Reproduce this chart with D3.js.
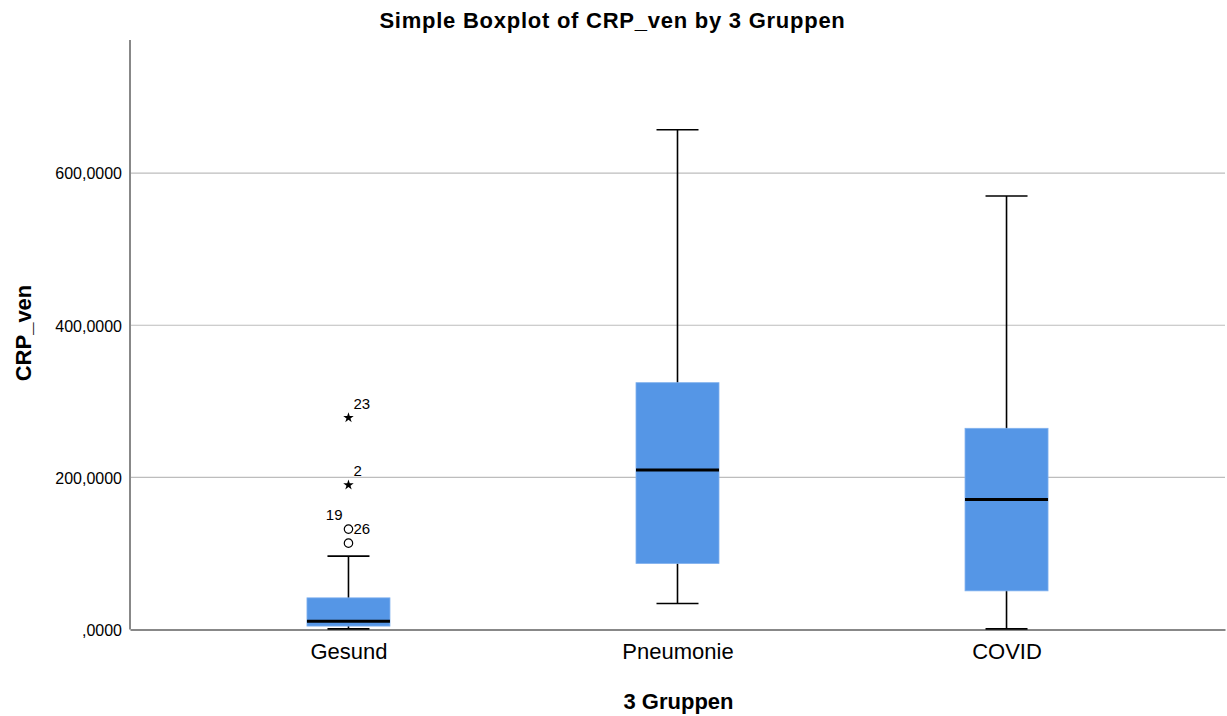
<!DOCTYPE html>
<html>
<head>
<meta charset="utf-8">
<script src="https://cdn.jsdelivr.net/npm/d3@7"></script>
<style>
    body { margin: 0; background: #fff; }
    text { font-family: Arial, "Liberation Sans", sans-serif; fill: #000; }
</style>
</head>
<body>
<svg id="chart" width="1227" height="716"></svg>
<script>
// Data
var categories = ['Gesund', 'Pneumonie', 'COVID'];
var whiskerLow = [0.8, 34.2, 0.8];
var q1 = [4.5, 86.8, 50.8];
var median = [10.9, 209.6, 171];
var q3 = [41.6, 324.5, 264.5];
var whiskerHigh = [96.4, 657, 570];

// outliers: circles are 'outlier', stars are 'extreme'
var outlierGroup = ['Gesund', 'Gesund', 'Gesund', 'Gesund'];
var outlierValue = [278.4, 190, 132, 113.5];
var outlierCase = ['23', '2', '19', '26'];
var outlierKind = ['extreme', 'extreme', 'outlier', 'outlier'];
var labelsOnLeft = ['19'];

var yTicks = [0, 200, 400, 600];
var yMax = 775;

var svg = d3.select('#chart');

var x = d3.scalePoint()
    .domain(categories)
    .range([130, 1225])
    .padding(0.664);

var y = d3.scaleLinear()
    .domain([0, yMax])
    .range([629.5, 40]);

var boxWidth = 83;
var capWidth = 42;
var boxColor = '#5596e6';

var tickFormat = function (d) {
    // SPSS style: 600,0000 and ,0000 for zero
    var s = d.toFixed(4).replace('.', ',');
    return d === 0 ? s.replace(/^0/, '') : s;
};

// gridlines
svg.append('g')
    .selectAll('line')
    .data(yTicks.filter(function (d) { return d > 0; }))
    .enter().append('line')
    .attr('x1', 130).attr('x2', 1225)
    .attr('y1', function (d) { return y(d); })
    .attr('y2', function (d) { return y(d); })
    .attr('stroke', '#bdbdbd')
    .attr('stroke-width', 1.2);

// y axis
var yAxis = svg.append('g')
    .attr('transform', 'translate(130,0)')
    .call(d3.axisLeft(y).tickValues(yTicks).tickFormat(tickFormat).tickSize(0).tickPadding(8));
yAxis.select('.domain').remove();
yAxis.selectAll('text')
    .style('font-size', '16px')
    .attr('dy', '0.36em');

svg.append('line')
    .attr('x1', 130).attr('x2', 130)
    .attr('y1', y(yMax)).attr('y2', y(0))
    .attr('stroke', '#888').attr('stroke-width', 2);

// x axis
var xAxis = svg.append('g')
    .attr('transform', 'translate(0,' + y(0) + ')')
    .call(d3.axisBottom(x).tickSize(0).tickPadding(14));
xAxis.select('.domain')
    .attr('stroke', '#888').attr('stroke-width', 2);
xAxis.selectAll('text')
    .style('font-size', '22px')
    .attr('dy', '0.71em');

// boxes
var groups = svg.append('g')
    .selectAll('g')
    .data(categories)
    .enter().append('g')
    .attr('transform', function (d) { return 'translate(' + x(d) + ',0)'; });

groups.append('line')
    .attr('y1', function (d, i) { return y(whiskerLow[i]); })
    .attr('y2', function (d, i) { return y(whiskerHigh[i]); })
    .attr('stroke', '#000').attr('stroke-width', 1.6);

groups.selectAll('.cap')
    .data(function (d, i) { return [whiskerLow[i], whiskerHigh[i]]; })
    .enter().append('line')
    .attr('class', 'cap')
    .attr('x1', -capWidth / 2).attr('x2', capWidth / 2)
    .attr('y1', function (v) { return y(v); })
    .attr('y2', function (v) { return y(v); })
    .attr('stroke', '#000').attr('stroke-width', 1.6);

groups.append('rect')
    .attr('x', -boxWidth / 2)
    .attr('width', boxWidth)
    .attr('y', function (d, i) { return y(q3[i]); })
    .attr('height', function (d, i) { return y(q1[i]) - y(q3[i]); })
    .attr('fill', boxColor)
    .attr('stroke', '#7fb0ee')
    .attr('stroke-width', 0.8);

groups.append('line')
    .attr('x1', -boxWidth / 2).attr('x2', boxWidth / 2)
    .attr('y1', function (d, i) { return y(median[i]); })
    .attr('y2', function (d, i) { return y(median[i]); })
    .attr('stroke', '#000').attr('stroke-width', 3);

// outliers
var outliers = svg.append('g')
    .selectAll('g')
    .data(outlierValue)
    .enter().append('g')
    .attr('transform', function (d, i) { return 'translate(' + x(outlierGroup[i]) + ',' + y(d) + ')'; });

outliers.filter(function (d, i) { return outlierKind[i] === 'outlier'; })
    .append('circle')
    .attr('r', 4.2)
    .attr('fill', 'none')
    .attr('stroke', '#000')
    .attr('stroke-width', 1.2);

outliers.filter(function (d, i) { return outlierKind[i] === 'extreme'; })
    .append('path')
    .attr('d', d3.symbol().type(d3.symbolStar).size(34))
    .attr('fill', '#000');

outliers.append('text')
    .text(function (d, i) { return outlierCase[i]; })
    .attr('x', function (d, i) { return labelsOnLeft.indexOf(outlierCase[i]) >= 0 ? -6 : 5; })
    .attr('y', -9)
    .attr('text-anchor', function (d, i) { return labelsOnLeft.indexOf(outlierCase[i]) >= 0 ? 'end' : 'start'; })
    .style('font-size', '15px');

// titles
svg.append('text')
    .attr('x', 612.5).attr('y', 28)
    .attr('text-anchor', 'middle')
    .style('font-size', '22px')
    .style('font-weight', 'bold')
    .style('letter-spacing', '0.75px')
    .text('Simple Boxplot of CRP_ven by 3 Gruppen');

svg.append('text')
    .attr('transform', 'translate(31,333) rotate(-90)')
    .attr('text-anchor', 'middle')
    .style('font-size', '22px')
    .style('font-weight', 'bold')
    .text('CRP_ven');

svg.append('text')
    .attr('x', 678.5).attr('y', 709)
    .attr('text-anchor', 'middle')
    .style('font-size', '22px')
    .style('font-weight', 'bold')
    .text('3 Gruppen');
</script>
</body>
</html>
